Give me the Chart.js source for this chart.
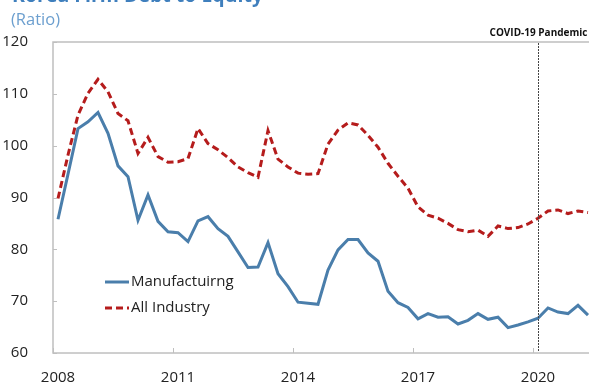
<!DOCTYPE html>
<html>
<head>
<meta charset="utf-8">
<script src="https://cdn.jsdelivr.net/npm/chart.js@4.4.1/dist/chart.umd.min.js"></script>
<style>
  html, body { margin: 0; padding: 0; background: #fff; overflow: hidden; }
  #wrap { position: relative; width: 600px; height: 384px; }
</style>
</head>
<body>
<div id="wrap"><canvas id="grafico"></canvas></div>
<script>
// quarterly series, 2008Q1 .. 2021Q2
const trimestres = [];
for (let ano = 2008; ano <= 2021; ano++) {
  for (let q = 1; q <= 4; q++) trimestres.push(ano + "Q" + q);
}
const categorias = trimestres.slice(0, 54);

const anosTick = ["2008", "2011", "2014", "2017", "2020"];
const yTicks = [60, 70, 80, 90, 100, 110, 120];

const manufatura = [
  85.8, 94.5, 103.3, 104.6, 106.4, 102.4, 96.1, 94.0, 85.6, 90.5, 85.4, 83.4,
  83.2, 81.5, 85.5, 86.3, 84.0, 82.5, 79.5, 76.5, 76.6, 81.3, 75.3, 72.8,
  69.8, 69.6, 69.4, 76.0, 79.9, 81.9, 81.9, 79.3, 77.7, 71.9, 69.7, 68.8,
  66.6, 67.6, 66.9, 67.0, 65.6, 66.3, 67.6, 66.5, 66.9, 64.9, 65.4, 66.0,
  66.7, 68.7, 67.9, 67.6, 69.2, 67.3
];

const todaIndustria = [
  89.8, 98.2, 105.9, 110.1, 112.8, 110.4, 106.2, 104.8, 98.5, 101.6, 97.9, 96.8,
  96.9, 97.5, 103.3, 100.4, 99.2, 97.7, 95.9, 94.8, 93.9, 102.9, 97.4, 95.9,
  94.7, 94.5, 94.6, 100.3, 103.0, 104.4, 104.0, 102.0, 99.7, 96.6, 94.1, 91.8,
  88.2, 86.6, 86.0, 85.0, 83.8, 83.4, 83.7, 82.5, 84.5, 84.0, 84.2, 84.9,
  86.0, 87.4, 87.6, 86.9, 87.4, 87.1
];

const COR_AZUL = "#4a7eab";
const COR_VERMELHO = "#b51c1c";
const FONTE = "'Open Sans', 'DejaVu Sans', sans-serif";
const indiceCovid = categorias.indexOf("2020Q1");

// box, tick marks, covid marker, legend and headings
const extras = {
  id: "extras",
  afterDraw(chart) {
    const ctx = chart.ctx;
    const area = chart.chartArea;
    const x = chart.scales.x;
    const y = chart.scales.y;
    ctx.save();

    // plot frame
    ctx.strokeStyle = "#bfbfbf";
    ctx.lineWidth = 1.5;
    ctx.strokeRect(area.left, area.top, area.right - area.left, area.bottom - area.top);

    // y tick marks (inward)
    ctx.lineWidth = 1;
    yTicks.forEach(v => {
      const py = Math.round(y.getPixelForValue(v)) + 0.5;
      ctx.beginPath();
      ctx.moveTo(area.left, py);
      ctx.lineTo(area.left + 4, py);
      ctx.stroke();
    });

    // x tick marks between categories, one per tick year
    const meio = (x.getPixelForValue(1) - x.getPixelForValue(0)) / 2;
    anosTick.forEach(a => {
      const i = categorias.indexOf(a + "Q1");
      const px = Math.round(x.getPixelForValue(i) - meio) + 0.5;
      ctx.beginPath();
      ctx.moveTo(px, area.bottom);
      ctx.lineTo(px, area.bottom - 5);
      ctx.stroke();
    });

    // covid line
    const cx = Math.round(x.getPixelForValue(indiceCovid)) + 0.5;
    ctx.strokeStyle = "#444";
    ctx.lineWidth = 1;
    ctx.setLineDash([2, 1]);
    ctx.beginPath();
    ctx.moveTo(cx, area.top + 1);
    ctx.lineTo(cx, area.bottom - 1);
    ctx.stroke();
    ctx.setLineDash([]);

    ctx.fillStyle = "#111";
    ctx.font = "bold 10px " + FONTE;
    ctx.textAlign = "center";
    ctx.textBaseline = "middle";
    ctx.fillText("COVID-19 Pandemic", cx, 33);

    // legend
    ctx.textAlign = "left";
    ctx.font = "15px " + FONTE;
    ctx.lineWidth = 3;
    ctx.strokeStyle = COR_AZUL;
    ctx.beginPath();
    ctx.moveTo(105, 282);
    ctx.lineTo(129, 282);
    ctx.stroke();
    ctx.fillStyle = "#222";
    ctx.fillText("Manufactuirng", 131, 282);

    ctx.strokeStyle = COR_VERMELHO;
    ctx.setLineDash([7, 4]);
    ctx.beginPath();
    ctx.moveTo(105, 308);
    ctx.lineTo(129, 308);
    ctx.stroke();
    ctx.setLineDash([]);
    ctx.fillText("All Industry", 131, 308);

    // headings
    ctx.fillStyle = "#3f7fbd";
    ctx.font = "bold 19.5px " + FONTE;
    ctx.textBaseline = "alphabetic";
    ctx.fillText("Korea Firm Debt to Equity", 12, 2);

    ctx.fillStyle = "#6c9fcf";
    ctx.font = "16.5px " + FONTE;
    ctx.textBaseline = "middle";
    ctx.fillText("(Ratio)", 11, 20);

    ctx.restore();
  }
};

const ctx = document.getElementById("grafico").getContext("2d");
new Chart(ctx, {
  type: "line",
  data: {
    labels: categorias,
    datasets: [
      {
        label: "Manufactuirng",
        data: manufatura,
        borderColor: COR_AZUL,
        borderWidth: 3,
        pointRadius: 0,
        tension: 0
      },
      {
        label: "All Industry",
        data: todaIndustria,
        borderColor: COR_VERMELHO,
        borderWidth: 3,
        borderDash: [7, 4],
        pointRadius: 0,
        tension: 0
      }
    ]
  },
  options: {
    responsive: true,
    maintainAspectRatio: false,
    animation: false,
    layout: { padding: { top: 42, right: 7, left: 0, bottom: 0 } },
    plugins: {
      legend: { display: false },
      tooltip: { enabled: false }
    },
    scales: {
      x: {
        offset: true,
        grid: { display: false },
        border: { display: false },
        afterFit: s => { s.height = 31; },
        ticks: {
          autoSkip: false,
          maxRotation: 0,
          padding: 8,
          color: "#222",
          font: { family: FONTE, size: 15 },
          callback: function (v, i) {
            const c = categorias[i];
            const ano = c.slice(0, 4);
            return c.endsWith("Q1") && anosTick.includes(ano) ? ano : "";
          }
        }
      },
      y: {
        min: 60,
        max: 120,
        afterFit: s => { s.width = 53; },
        grid: { display: false },
        border: { display: false },
        afterBuildTicks: s => { s.ticks = yTicks.map(v => ({ value: v })); },
        ticks: {
          padding: 17,
          color: "#222",
          font: { family: FONTE, size: 15 }
        }
      }
    }
  },
  plugins: [extras]
});
</script>
</body>
</html>
